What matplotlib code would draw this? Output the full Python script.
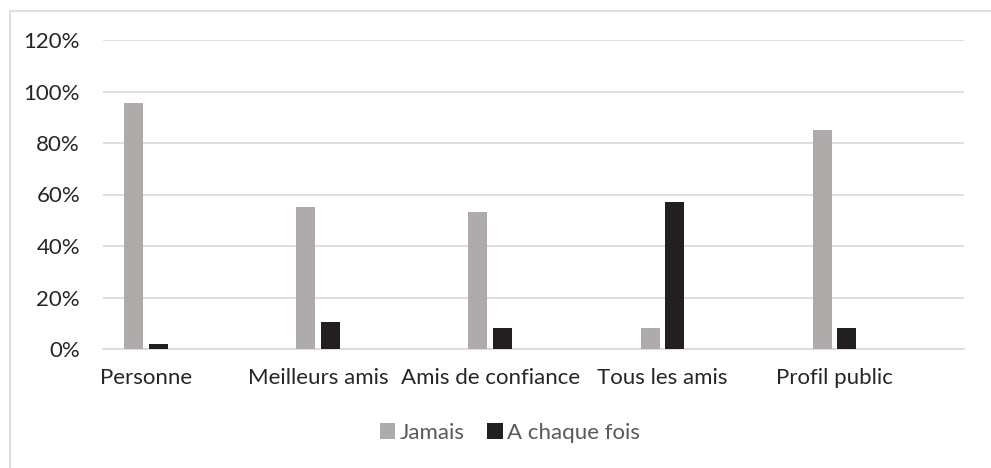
import matplotlib
matplotlib.use("Agg")
import matplotlib.pyplot as plt
from matplotlib.patches import Rectangle
import numpy as np

categories = ["Personne", "Meilleurs amis", "Amis de confiance", "Tous les amis", "Profil public"]
jamais = [0.955, 0.552, 0.531, 0.083, 0.849]
a_chaque_fois = [0.02, 0.105, 0.083, 0.572, 0.083]
series_names = ["Jamais", "A chaque fois"]
yticks = [0, 0.2, 0.4, 0.6, 0.8, 1.0, 1.2]
ytick_labels = ["0%", "20%", "40%", "60%", "80%", "100%", "120%"]

plt.rcParams['font.family'] = ['Lato', 'DejaVu Sans']
W, H = 991, 468
fig = plt.figure(figsize=(W/100, H/100), dpi=100)
fig.patch.set_facecolor("white")

# chart border
fig.patches.append(Rectangle((9.5/W, -0.1), 1.2, (H-10.5)/H + 0.1, transform=fig.transFigure,
                             fill=False, edgecolor="#D9D9D9", linewidth=1.2))

left, right = 103/W, 964/W
bottom, top = 1 - 349/H, 1 - 40/H
ax = fig.add_axes([left, bottom, right-left, top-bottom])

x = np.arange(len(categories))
gray = "#AEABAA"
black = "#231F20"
w = 0.11
ax.bar(x - 0.323, jamais, width=w, color=gray, label=series_names[0], zorder=3)
ax.bar(x - 0.180, a_chaque_fois, width=w, color=black, label=series_names[1], zorder=3)

ax.set_xlim(-0.5, len(categories) - 0.5)
ax.set_ylim(0, 1.2)
ax.set_yticks(yticks)
ax.set_yticklabels(ytick_labels)
ax.set_xticks(x - 0.25)
ax.set_xticklabels(categories)
ax.yaxis.grid(True, color="#D9D9D9", linewidth=1.2, zorder=0)
ax.set_axisbelow(True)
for s in ["top", "right", "left"]:
    ax.spines[s].set_visible(False)
ax.spines["bottom"].set_color("#D9D9D9")
ax.spines["bottom"].set_linewidth(1.2)
ax.tick_params(axis="both", length=0, labelsize=16, colors="#262626")
ax.tick_params(axis="y", pad=16.5)
ax.tick_params(axis="x", pad=14)

leg = fig.legend(loc="center", bbox_to_anchor=(510/W, 1 - 433/H), ncol=2, frameon=False,
                 fontsize=16, handlelength=0.7, handleheight=0.7, handletextpad=0.2,
                 columnspacing=1.0)
for t in leg.get_texts():
    t.set_color("#595959")

fig.savefig("out.png", dpi=100, facecolor="white")
